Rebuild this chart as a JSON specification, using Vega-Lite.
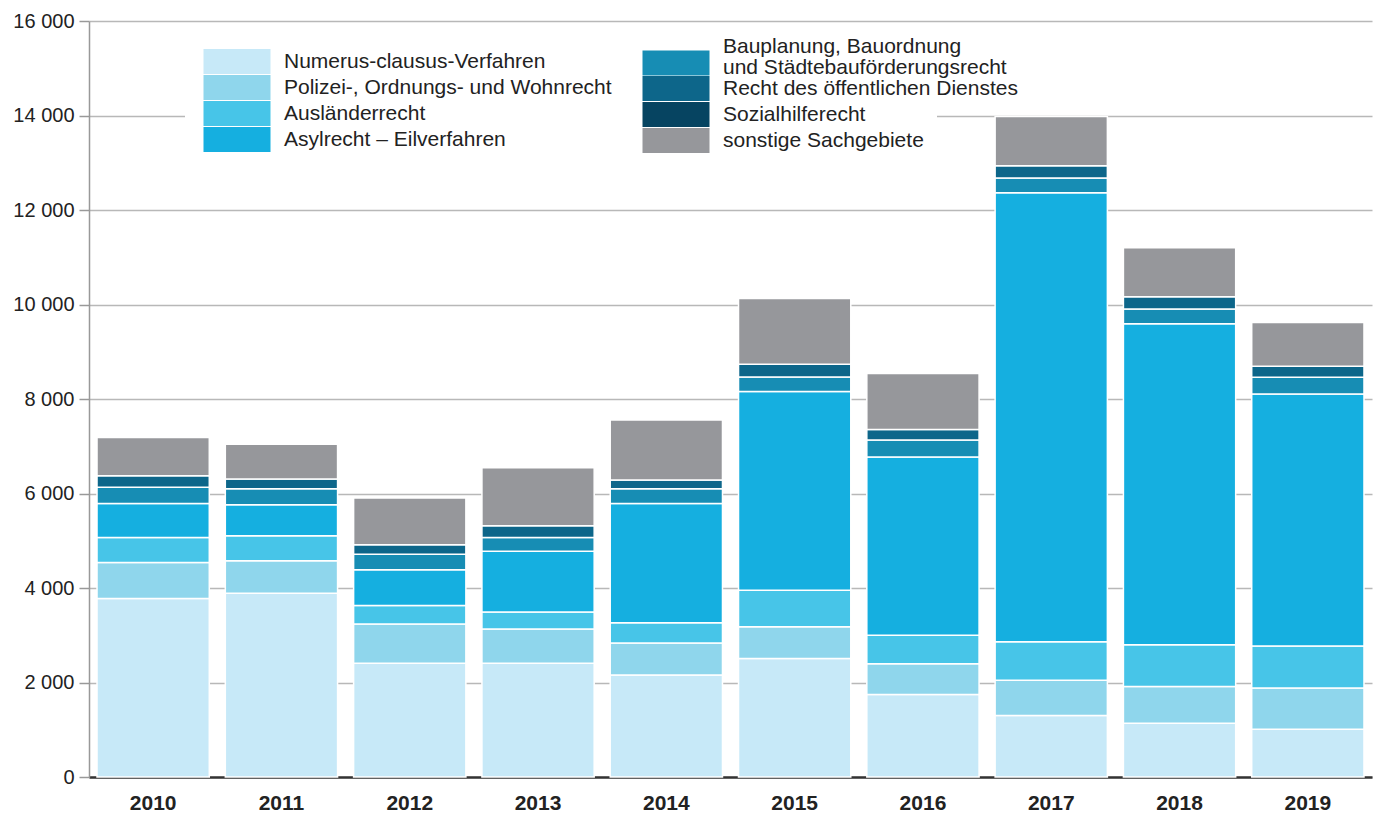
{
  "$schema": "https://vega.github.io/schema/vega-lite/v6.json",
  "width": 1283,
  "height": 756,
  "autosize": {"type": "none"},
  "padding": {"left": 89, "top": 21, "right": 4, "bottom": 39},
  "background": "white",
  "config": {
    "view": {"stroke": null},
    "font": "Liberation Sans",
    "style": {"guide-label": {"lineHeight": 21}},
    "legend": {
      "title": null,
      "orient": "none",
      "fillColor": "white",
      "strokeColor": null,
      "symbolSize": 400,
      "symbolStrokeWidth": 0,
      "symbolOpacity": 1,
      "labelFont": "Liberation Sans",
      "labelFontSize": 21,
      "labelColor": "#222222",
      "labelBaseline": "middle",
      "labelOffset": 60,
      "labelLimit": 500,
      "rowPadding": 1
    }
  },
  "data": {
    "values": [
      {"Jahr": "2010", "Sachgebiet": "Numerus-clausus-Verfahren", "Anzahl": 3780},
      {"Jahr": "2010", "Sachgebiet": "Polizei-, Ordnungs- und Wohnrecht", "Anzahl": 760},
      {"Jahr": "2010", "Sachgebiet": "Ausländerrecht", "Anzahl": 530},
      {"Jahr": "2010", "Sachgebiet": "Asylrecht – Eilverfahren", "Anzahl": 720},
      {"Jahr": "2010", "Sachgebiet": "Bauplanung, Bauordnung und Städtebauförderungsrecht", "Anzahl": 340},
      {"Jahr": "2010", "Sachgebiet": "Recht des öffentlichen Dienstes", "Anzahl": 245},
      {"Jahr": "2010", "Sachgebiet": "sonstige Sachgebiete", "Anzahl": 810},
      {"Jahr": "2011", "Sachgebiet": "Numerus-clausus-Verfahren", "Anzahl": 3890},
      {"Jahr": "2011", "Sachgebiet": "Polizei-, Ordnungs- und Wohnrecht", "Anzahl": 685},
      {"Jahr": "2011", "Sachgebiet": "Ausländerrecht", "Anzahl": 530},
      {"Jahr": "2011", "Sachgebiet": "Asylrecht – Eilverfahren", "Anzahl": 655},
      {"Jahr": "2011", "Sachgebiet": "Bauplanung, Bauordnung und Städtebauförderungsrecht", "Anzahl": 340},
      {"Jahr": "2011", "Sachgebiet": "Recht des öffentlichen Dienstes", "Anzahl": 205},
      {"Jahr": "2011", "Sachgebiet": "sonstige Sachgebiete", "Anzahl": 735},
      {"Jahr": "2012", "Sachgebiet": "Numerus-clausus-Verfahren", "Anzahl": 2405},
      {"Jahr": "2012", "Sachgebiet": "Polizei-, Ordnungs- und Wohnrecht", "Anzahl": 835},
      {"Jahr": "2012", "Sachgebiet": "Ausländerrecht", "Anzahl": 390},
      {"Jahr": "2012", "Sachgebiet": "Asylrecht – Eilverfahren", "Anzahl": 755},
      {"Jahr": "2012", "Sachgebiet": "Bauplanung, Bauordnung und Städtebauförderungsrecht", "Anzahl": 330},
      {"Jahr": "2012", "Sachgebiet": "Recht des öffentlichen Dienstes", "Anzahl": 200},
      {"Jahr": "2012", "Sachgebiet": "sonstige Sachgebiete", "Anzahl": 990},
      {"Jahr": "2013", "Sachgebiet": "Numerus-clausus-Verfahren", "Anzahl": 2405},
      {"Jahr": "2013", "Sachgebiet": "Polizei-, Ordnungs- und Wohnrecht", "Anzahl": 725},
      {"Jahr": "2013", "Sachgebiet": "Ausländerrecht", "Anzahl": 360},
      {"Jahr": "2013", "Sachgebiet": "Asylrecht – Eilverfahren", "Anzahl": 1290},
      {"Jahr": "2013", "Sachgebiet": "Bauplanung, Bauordnung und Städtebauförderungsrecht", "Anzahl": 290},
      {"Jahr": "2013", "Sachgebiet": "Recht des öffentlichen Dienstes", "Anzahl": 245},
      {"Jahr": "2013", "Sachgebiet": "sonstige Sachgebiete", "Anzahl": 1230},
      {"Jahr": "2014", "Sachgebiet": "Numerus-clausus-Verfahren", "Anzahl": 2160},
      {"Jahr": "2014", "Sachgebiet": "Polizei-, Ordnungs- und Wohnrecht", "Anzahl": 675},
      {"Jahr": "2014", "Sachgebiet": "Ausländerrecht", "Anzahl": 430},
      {"Jahr": "2014", "Sachgebiet": "Asylrecht – Eilverfahren", "Anzahl": 2525},
      {"Jahr": "2014", "Sachgebiet": "Bauplanung, Bauordnung und Städtebauförderungsrecht", "Anzahl": 310},
      {"Jahr": "2014", "Sachgebiet": "Recht des öffentlichen Dienstes", "Anzahl": 185},
      {"Jahr": "2014", "Sachgebiet": "sonstige Sachgebiete", "Anzahl": 1270},
      {"Jahr": "2015", "Sachgebiet": "Numerus-clausus-Verfahren", "Anzahl": 2510},
      {"Jahr": "2015", "Sachgebiet": "Polizei-, Ordnungs- und Wohnrecht", "Anzahl": 670},
      {"Jahr": "2015", "Sachgebiet": "Ausländerrecht", "Anzahl": 775},
      {"Jahr": "2015", "Sachgebiet": "Asylrecht – Eilverfahren", "Anzahl": 4205},
      {"Jahr": "2015", "Sachgebiet": "Bauplanung, Bauordnung und Städtebauförderungsrecht", "Anzahl": 305},
      {"Jahr": "2015", "Sachgebiet": "Recht des öffentlichen Dienstes", "Anzahl": 270},
      {"Jahr": "2015", "Sachgebiet": "sonstige Sachgebiete", "Anzahl": 1390},
      {"Jahr": "2016", "Sachgebiet": "Numerus-clausus-Verfahren", "Anzahl": 1745},
      {"Jahr": "2016", "Sachgebiet": "Polizei-, Ordnungs- und Wohnrecht", "Anzahl": 650},
      {"Jahr": "2016", "Sachgebiet": "Ausländerrecht", "Anzahl": 605},
      {"Jahr": "2016", "Sachgebiet": "Asylrecht – Eilverfahren", "Anzahl": 3775},
      {"Jahr": "2016", "Sachgebiet": "Bauplanung, Bauordnung und Städtebauförderungsrecht", "Anzahl": 355},
      {"Jahr": "2016", "Sachgebiet": "Recht des öffentlichen Dienstes", "Anzahl": 225},
      {"Jahr": "2016", "Sachgebiet": "sonstige Sachgebiete", "Anzahl": 1185},
      {"Jahr": "2017", "Sachgebiet": "Numerus-clausus-Verfahren", "Anzahl": 1300},
      {"Jahr": "2017", "Sachgebiet": "Polizei-, Ordnungs- und Wohnrecht", "Anzahl": 745},
      {"Jahr": "2017", "Sachgebiet": "Ausländerrecht", "Anzahl": 820},
      {"Jahr": "2017", "Sachgebiet": "Asylrecht – Eilverfahren", "Anzahl": 9500},
      {"Jahr": "2017", "Sachgebiet": "Bauplanung, Bauordnung und Städtebauförderungsrecht", "Anzahl": 310},
      {"Jahr": "2017", "Sachgebiet": "Recht des öffentlichen Dienstes", "Anzahl": 260},
      {"Jahr": "2017", "Sachgebiet": "sonstige Sachgebiete", "Anzahl": 1045},
      {"Jahr": "2018", "Sachgebiet": "Numerus-clausus-Verfahren", "Anzahl": 1140},
      {"Jahr": "2018", "Sachgebiet": "Polizei-, Ordnungs- und Wohnrecht", "Anzahl": 775},
      {"Jahr": "2018", "Sachgebiet": "Ausländerrecht", "Anzahl": 885},
      {"Jahr": "2018", "Sachgebiet": "Asylrecht – Eilverfahren", "Anzahl": 6795},
      {"Jahr": "2018", "Sachgebiet": "Bauplanung, Bauordnung und Städtebauförderungsrecht", "Anzahl": 310},
      {"Jahr": "2018", "Sachgebiet": "Recht des öffentlichen Dienstes", "Anzahl": 260},
      {"Jahr": "2018", "Sachgebiet": "sonstige Sachgebiete", "Anzahl": 1035},
      {"Jahr": "2019", "Sachgebiet": "Numerus-clausus-Verfahren", "Anzahl": 1010},
      {"Jahr": "2019", "Sachgebiet": "Polizei-, Ordnungs- und Wohnrecht", "Anzahl": 875},
      {"Jahr": "2019", "Sachgebiet": "Ausländerrecht", "Anzahl": 885},
      {"Jahr": "2019", "Sachgebiet": "Asylrecht – Eilverfahren", "Anzahl": 5335},
      {"Jahr": "2019", "Sachgebiet": "Bauplanung, Bauordnung und Städtebauförderungsrecht", "Anzahl": 355},
      {"Jahr": "2019", "Sachgebiet": "Recht des öffentlichen Dienstes", "Anzahl": 235},
      {"Jahr": "2019", "Sachgebiet": "sonstige Sachgebiete", "Anzahl": 925}
    ]
  },
  "transform": [
    {"calculate": "indexof(['Numerus-clausus-Verfahren','Polizei-, Ordnungs- und Wohnrecht','Ausländerrecht','Asylrecht – Eilverfahren','Bauplanung, Bauordnung und Städtebauförderungsrecht','Recht des öffentlichen Dienstes','Sozialhilferecht','sonstige Sachgebiete'], datum.Sachgebiet)", "as": "Rang"}
  ],
  "layer": [
    {
      "mark": {"type": "bar", "stroke": "white", "strokeWidth": 1.5},
      "encoding": {
        "x": {
          "field": "Jahr",
          "type": "nominal",
          "scale": {"paddingInner": 0.125, "paddingOuter": 0.0625},
          "axis": {
            "title": null,
            "labelAngle": 0,
            "labelFont": "Liberation Sans",
            "labelFontSize": 21,
            "labelFontWeight": "bold",
            "labelColor": "#222222",
            "labelPadding": 15,
            "ticks": false,
            "domainColor": "#333333",
            "domainWidth": 2.5
          }
        },
        "y": {
          "field": "Anzahl",
          "type": "quantitative",
          "stack": "zero",
          "scale": {"domain": [0, 16000], "nice": false},
          "axis": {
            "title": null,
            "values": [0, 2000, 4000, 6000, 8000, 10000, 12000, 14000, 16000],
            "labelExpr": "replace(format(datum.value, ',d'), ',', ' ')",
            "labelFont": "Liberation Sans",
            "labelFontSize": 20,
            "labelColor": "#222222",
            "labelPadding": 5,
            "tickSize": 10,
            "tickColor": "#999999",
            "tickWidth": 1.5,
            "domainColor": "#999999",
            "domainWidth": 1.5,
            "grid": true,
            "gridColor": "#b8b8b8",
            "gridWidth": 1.5
          }
        },
        "fill": {
          "field": "Sachgebiet",
          "type": "nominal",
          "scale": {
            "domain": ["Numerus-clausus-Verfahren", "Polizei-, Ordnungs- und Wohnrecht", "Ausländerrecht", "Asylrecht – Eilverfahren", "Bauplanung, Bauordnung und Städtebauförderungsrecht", "Recht des öffentlichen Dienstes", "Sozialhilferecht", "sonstige Sachgebiete"],
            "range": ["#C7E9F8", "#8FD6EC", "#47C5E8", "#15AFE0", "#178DB4", "#0D668A", "#064461", "#96979B"]
          },
          "legend": {
            "values": ["Numerus-clausus-Verfahren", "Polizei-, Ordnungs- und Wohnrecht", "Ausländerrecht", "Asylrecht – Eilverfahren"],
            "legendX": 96,
            "legendY": 12,
            "padding": 18,
            "symbolType": "M-1,-1.25H5.7V1.25H-1Z"
          }
        },
        "order": {"field": "Rang", "type": "quantitative", "sort": "ascending"}
      }
    },
    {
      "transform": [{"filter": "false"}],
      "mark": {"type": "bar"},
      "encoding": {
        "fill": {
          "field": "Sachgebiet",
          "type": "nominal",
          "scale": {
            "domain": ["Numerus-clausus-Verfahren", "Polizei-, Ordnungs- und Wohnrecht", "Ausländerrecht", "Asylrecht – Eilverfahren", "Bauplanung, Bauordnung und Städtebauförderungsrecht", "Recht des öffentlichen Dienstes", "Sozialhilferecht", "sonstige Sachgebiete"],
            "range": ["#C7E9F8", "#8FD6EC", "#47C5E8", "#15AFE0", "#178DB4", "#0D668A", "#064461", "#96979B"]
          },
          "legend": {
            "values": ["Sozialhilferecht", "sonstige Sachgebiete"],
            "legendX": 540,
            "legendY": 70,
            "padding": 13,
            "symbolType": "M-1,-1.25H5.7V1.25H-1Z"
          }
        }
      }
    },
    {
      "transform": [{"filter": "false"}],
      "mark": {"type": "bar"},
      "encoding": {
        "fill": {
          "field": "Sachgebiet",
          "type": "nominal",
          "scale": {
            "domain": ["Numerus-clausus-Verfahren", "Polizei-, Ordnungs- und Wohnrecht", "Ausländerrecht", "Asylrecht – Eilverfahren", "Bauplanung, Bauordnung und Städtebauförderungsrecht", "Recht des öffentlichen Dienstes", "Sozialhilferecht", "sonstige Sachgebiete"],
            "range": ["#C7E9F8", "#8FD6EC", "#47C5E8", "#15AFE0", "#178DB4", "#0D668A", "#064461", "#96979B"]
          },
          "legend": {
            "values": ["Recht des öffentlichen Dienstes"],
            "legendX": 543,
            "legendY": 47,
            "padding": 10,
            "fillColor": "transparent",
            "symbolType": "M-1,-1.25H5.7V1.25H-1Z"
          }
        }
      }
    },
    {
      "transform": [{"filter": "false"}],
      "mark": {"type": "bar"},
      "encoding": {
        "fill": {
          "field": "Sachgebiet",
          "type": "nominal",
          "scale": {
            "domain": ["Numerus-clausus-Verfahren", "Polizei-, Ordnungs- und Wohnrecht", "Ausländerrecht", "Asylrecht – Eilverfahren", "Bauplanung, Bauordnung und Städtebauförderungsrecht", "Recht des öffentlichen Dienstes", "Sozialhilferecht", "sonstige Sachgebiete"],
            "range": ["#C7E9F8", "#8FD6EC", "#47C5E8", "#15AFE0", "#178DB4", "#0D668A", "#064461", "#96979B"]
          },
          "legend": {
            "values": ["Bauplanung, Bauordnung und Städtebauförderungsrecht"],
            "legendX": 543,
            "legendY": 5,
            "padding": 10,
            "fillColor": "transparent",
            "symbolType": "M-1,0.4H5.7V2.9H-1Z",
            "labelExpr": "['Bauplanung, Bauordnung', 'und Städtebauförderungsrecht']"
          }
        }
      }
    }
  ],
  "resolve": {
    "scale": {"fill": "independent"},
    "legend": {"fill": "independent"}
  }
}
